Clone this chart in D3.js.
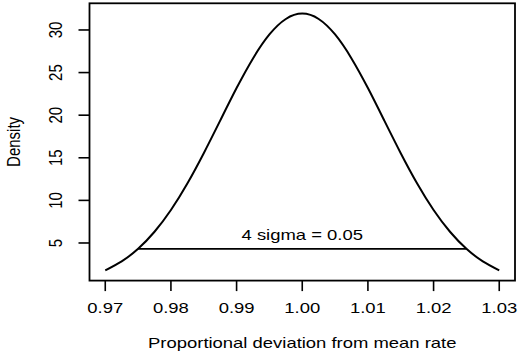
<!DOCTYPE html>
<html>
<head>
<meta charset="utf-8">
<script src="https://cdn.jsdelivr.net/npm/d3@7"></script>
<style>
  body { margin: 0; background: #fff; }
  svg { display: block; }
  text { font-family: "Liberation Sans", Arial, sans-serif; fill: #000; }
</style>
</head>
<body>
<script>
const width = 520
    , height = 354;

// density curve, x step 0.0025
const rateX = [0.9700, 0.9725, 0.9750, 0.9775, 0.9800, 0.9825, 0.9850, 0.9875, 0.9900, 0.9925, 0.9950, 0.9975,
               1.0000, 1.0025, 1.0050, 1.0075, 1.0100, 1.0125, 1.0150, 1.0175, 1.0200, 1.0225, 1.0250, 1.0275, 1.0300];
const densityY = [1.79, 2.84, 4.32, 6.32, 8.87, 11.98, 15.54, 19.36, 23.18, 26.66, 29.47, 31.29,
                  31.92, 31.29, 29.47, 26.66, 23.18, 19.36, 15.54, 11.98, 8.87, 6.32, 4.32, 2.84, 1.79];

// the 4 sigma segment
const sigmaX = [0.975, 1.025];
const sigmaY = 4.32;
const sigmaLabel = "4 sigma = 0.05";
const sigmaLabelAt = [1.0, 5.9];

const xTicks = [0.97, 0.98, 0.99, 1.00, 1.01, 1.02, 1.03];
const yTicks = [5, 10, 15, 20, 25, 30];
const xTitle = "Proportional deviation from mean rate";
const yTitle = "Density";

const stretch = 1.23; // labels look widened horizontally

const x = d3.scaleLinear()
    .domain([0.9676, 1.0324])
    .range([89.5, 515]);
const y = d3.scaleLinear()
    .domain([0.585, 33.13])
    .range([280.6, 3.3]);

const svg = d3.select("body").append("svg")
    .attr("width", width)
    .attr("height", height);

// plot box
svg.append("rect")
    .attr("x", x.range()[0])
    .attr("y", y.range()[1])
    .attr("width", x.range()[1] - x.range()[0])
    .attr("height", y.range()[0] - y.range()[1])
    .attr("fill", "none")
    .attr("stroke", "#000")
    .attr("stroke-width", 1.8);

// x axis
const xAxis = svg.append("g").attr("class", "x axis");
xAxis.selectAll("line")
    .data(xTicks)
    .enter()
    .append("line")
    .attr("x1", d => x(d))
    .attr("x2", d => x(d))
    .attr("y1", y.range()[0])
    .attr("y2", y.range()[0] + 10.5)
    .attr("stroke", "#000")
    .attr("stroke-width", 1.6);
xAxis.selectAll("text")
    .data(xTicks)
    .enter()
    .append("text")
    .attr("transform", d => "translate(" + x(d) + ",313) scale(" + stretch + ",1)")
    .style("text-anchor", "middle")
    .style("font-size", "15px")
    .text(d => d.toFixed(2));

svg.append("text")
    .attr("transform", "translate(" + x(1.0) + ",348) scale(" + stretch + ",1)")
    .style("text-anchor", "middle")
    .style("font-size", "15px")
    .text(xTitle);

// y axis
const yAxis = svg.append("g").attr("class", "y axis");
yAxis.selectAll("line")
    .data(yTicks)
    .enter()
    .append("line")
    .attr("x1", x.range()[0] - 11)
    .attr("x2", x.range()[0])
    .attr("y1", d => y(d))
    .attr("y2", d => y(d))
    .attr("stroke", "#000")
    .attr("stroke-width", 1.6);
yAxis.selectAll("text")
    .data(yTicks)
    .enter()
    .append("text")
    .attr("transform", d => "translate(61.5," + y(d) + ") scale(" + stretch + ",1) rotate(-90)")
    .style("text-anchor", "middle")
    .style("font-size", "15px")
    .text(d => d);

svg.append("text")
    .attr("transform", "translate(20," + ((y.range()[0] + y.range()[1]) / 2) + ") scale(" + stretch + ",1) rotate(-90)")
    .style("text-anchor", "middle")
    .style("font-size", "15px")
    .text(yTitle);

// density curve
const line = d3.line()
    .x((d, i) => x(rateX[i]))
    .y(d => y(d))
    .curve(d3.curveNatural);

svg.append("path")
    .datum(densityY)
    .attr("class", "line")
    .attr("d", line)
    .attr("fill", "none")
    .attr("stroke", "#000")
    .attr("stroke-width", 2);

svg.append("line")
    .attr("x1", x(sigmaX[0]))
    .attr("x2", x(sigmaX[1]))
    .attr("y1", y(sigmaY))
    .attr("y2", y(sigmaY))
    .attr("stroke", "#000")
    .attr("stroke-width", 1.8);

svg.append("text")
    .attr("transform", "translate(" + x(sigmaLabelAt[0]) + "," + (y(sigmaLabelAt[1]) + 5) + ") scale(" + stretch + ",1)")
    .style("text-anchor", "middle")
    .style("font-size", "15px")
    .text(sigmaLabel);
</script>
</body>
</html>
